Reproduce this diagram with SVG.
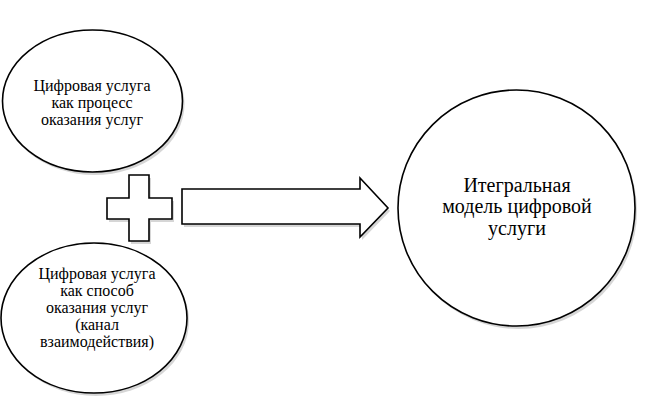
<svg xmlns="http://www.w3.org/2000/svg" width="653" height="416" viewBox="0 0 653 416">
<style>
.sh{fill:#bbb;stroke:none;opacity:0.6}
.s{fill:#fff;stroke:#000;stroke-width:1.6}
</style>
<rect width="653" height="416" fill="#fff"/>
<g id="connectors">
<path class="sh" d="M131,178 H151 V201 H174 V222 H151 V244 H131 V222 H109 V201 H131 Z"/>
<path class="s" d="M129,175 H149 V198 H172 V219 H149 V241 H129 V219 H107 V198 H129 Z"/>
<path class="sh" d="M184,192 H362 V181 L390,211 L362,240 V227 H184 Z"/>
<path class="s" d="M182,189 H360 V178 L388,208 L360,237 V224 H182 Z"/>
</g>
<g id="node-top">
<ellipse class="sh" cx="94.5" cy="104" rx="90" ry="71"/>
<ellipse class="s" cx="92.5" cy="101" rx="90" ry="71"/>
<text x="92" y="91" font-family="Liberation Serif" font-size="16" text-anchor="middle">Цифровая услуга</text>
<text x="92" y="108" font-family="Liberation Serif" font-size="16" text-anchor="middle">как процесс</text>
<text x="92" y="125" font-family="Liberation Serif" font-size="16" text-anchor="middle">оказания услуг</text>
</g>
<g id="node-bottom">
<ellipse class="sh" cx="96" cy="321" rx="93" ry="75"/>
<ellipse class="s" cx="94" cy="318" rx="93" ry="75"/>
<text x="97" y="279" font-family="Liberation Serif" font-size="16" text-anchor="middle">Цифровая услуга</text>
<text x="97" y="296" font-family="Liberation Serif" font-size="16" text-anchor="middle">как способ</text>
<text x="97" y="313" font-family="Liberation Serif" font-size="16" text-anchor="middle">оказания услуг</text>
<text x="97" y="330" font-family="Liberation Serif" font-size="16" text-anchor="middle">(канал</text>
<text x="97" y="347" font-family="Liberation Serif" font-size="16" text-anchor="middle">взаимодействия)</text>
</g>
<g id="node-right">
<ellipse class="sh" cx="518.5" cy="211" rx="118.5" ry="118"/>
<ellipse class="s" cx="516.5" cy="208" rx="118.5" ry="118"/>
<text x="517" y="192" font-family="Liberation Serif" font-size="20" text-anchor="middle">Итегральная</text>
<text x="517" y="213" font-family="Liberation Serif" font-size="20" text-anchor="middle">модель цифровой</text>
<text x="517" y="235" font-family="Liberation Serif" font-size="20" text-anchor="middle">услуги</text>
</g>
</svg>
